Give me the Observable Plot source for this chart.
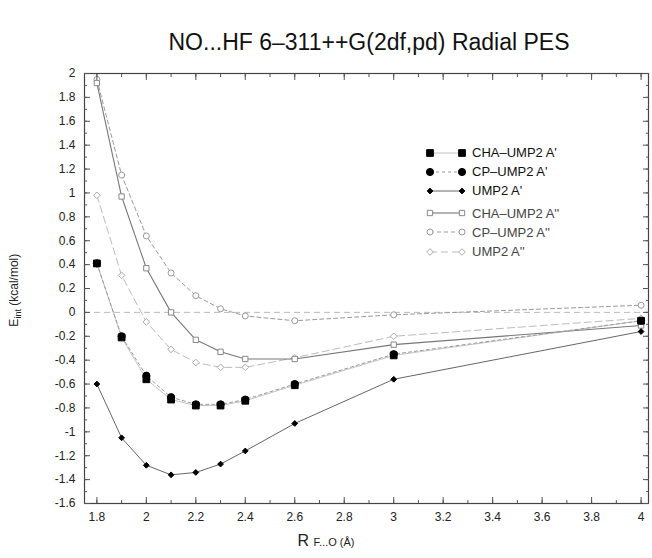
<!DOCTYPE html>
<html><head><meta charset="utf-8">
<script src="https://cdn.jsdelivr.net/npm/d3@7"></script>
<script src="https://cdn.jsdelivr.net/npm/@observablehq/plot@0.6"></script>
<style>
body{margin:0;background:#fff;font-family:"Liberation Sans",Arial,sans-serif;}
#wrap{position:relative;width:652px;height:558px;overflow:hidden;}
#title{height:60px;box-sizing:border-box;padding-top:30px;padding-left:86px;text-align:center;font-size:23px;color:#111;line-height:24px;}
#ylab{position:absolute;left:-40px;top:282px;width:110px;text-align:center;transform:rotate(-90deg);font-size:12px;color:#222;white-space:nowrap;}
#xlab{position:absolute;left:0;width:652px;top:532px;padding-left:0;text-align:center;color:#222;white-space:nowrap;}
#legend{position:absolute;left:424px;top:143px;font-size:13px;color:#111;}
.row{height:19.2px;display:flex;align-items:center;}
.row svg{margin-right:6px;}
</style></head><body>
<div id="wrap">
<div id="title">NO...HF 6–311++G(2df,pd) Radial PES</div>
<div id="chart"></div>
<div id="ylab">E<sub style="font-size:9px">int</sub> (kcal/mol)</div>
<div id="xlab"><span style="font-size:16px">R</span> <span style="font-size:11px">F...O (Å)</span></div>
<div id="legend"></div>
</div>
<script>
// distances (Å)
const R = [1.8, 1.9, 2.0, 2.1, 2.2, 2.3, 2.4, 2.6, 3.0, 4.0];
// interaction energies (kcal/mol)
const chaA1 = [0.41, -0.21, -0.56, -0.73, -0.78, -0.78, -0.74, -0.61, -0.36, -0.07];
const cpA1  = [0.41, -0.20, -0.53, -0.71, -0.77, -0.77, -0.73, -0.60, -0.35, -0.07];
const umpA1 = [-0.60, -1.05, -1.28, -1.36, -1.34, -1.27, -1.16, -0.93, -0.56, -0.16];
const chaA2 = [1.92, 0.97, 0.37, 0.00, -0.23, -0.33, -0.39, -0.39, -0.27, -0.11];
const cpA2  = [1.95, 1.15, 0.64, 0.33, 0.14, 0.03, -0.03, -0.07, -0.02, 0.06];
const umpA2 = [0.98, 0.31, -0.08, -0.31, -0.42, -0.46, -0.46, -0.38, -0.20, -0.05];
const seriesNames = ["CHA–UMP2 A'", "CP–UMP2 A'", "UMP2 A'", "CHA–UMP2 A''", "CP–UMP2 A''", "UMP2 A''"];
const xMajor = [1.8, 2.0, 2.2, 2.4, 2.6, 2.8, 3.0, 3.2, 3.4, 3.6, 3.8, 4.0];
const yMajor = [-1.6, -1.4, -1.2, -1, -0.8, -0.6, -0.4, -0.2, 0, 0.2, 0.4, 0.6, 0.8, 1, 1.2, 1.4, 1.6, 1.8, 2];
const xMinor = d3.range(18, 41).map(v => v / 10);
const yMinor = d3.range(-16, 21).map(v => v / 10);

const styles = [
  {stroke: "#aaa", dash: null, sw: 0.7, symbol: "square", r: 3.8, fill: "#000", mstroke: "#000"},
  {stroke: "#999", dash: "3,3", sw: 1, symbol: "circle", r: 3.6, fill: "#000", mstroke: "#000"},
  {stroke: "#666", dash: null, sw: 1, symbol: "diamond2", r: 2.6, fill: "#000", mstroke: "#000"},
  {stroke: "#777", dash: null, sw: 1.1, symbol: "square", r: 3, fill: "#fff", mstroke: "#888"},
  {stroke: "#999", dash: "4,3", sw: 1, symbol: "circle", r: 3, fill: "#fff", mstroke: "#999"},
  {stroke: "#bbb", dash: "7,4", sw: 1, symbol: "diamond2", r: 3, fill: "#fff", mstroke: "#aaa"}
];
const values = [chaA1, cpA1, umpA1, chaA2, cpA2, umpA2];
const tables = values.map(v => R.map((x, i) => ({x, y: v[i]})));
const fmt = d => String(+d.toFixed(1));
// draw order: A'' first (gray), then A'
const order = [5, 4, 3, 0, 1, 2];
const marks = [
  Plot.ruleY([0], {stroke: "#aaa", strokeDasharray: "6,4", strokeWidth: 0.8})
];
for (const k of order) {
  const s = styles[k];
  marks.push(Plot.line(tables[k], {x: "x", y: "y", stroke: s.stroke, strokeWidth: s.sw, strokeDasharray: s.dash}));
}
for (const k of order) {
  const s = styles[k];
  marks.push(Plot.dot(tables[k], {x: "x", y: "y", symbol: () => s.symbol, r: s.r, fill: s.fill, stroke: s.mstroke, strokeWidth: 1}));
}
const blank = () => "";
const tk = {label: null, stroke: "#555", tickFormat: blank};
marks.push(
  Plot.frame({stroke: "#444", strokeWidth: 1.2}),
  Plot.axisX(xMajor, {anchor: "bottom", tickSize: 0, tickPadding: 9, tickFormat: fmt, fontSize: 12, fill: "#222", label: null}),
  Plot.axisY(yMajor, {anchor: "left", tickSize: 0, tickPadding: 9, tickFormat: fmt, fontSize: 12, fill: "#222", label: null}),
  Plot.axisX(xMajor, {...tk, anchor: "bottom", tickSize: 6, dy: -6}),
  Plot.axisX(xMinor, {...tk, anchor: "bottom", tickSize: 3, dy: -3}),
  Plot.axisX(xMajor, {...tk, anchor: "top", tickSize: 6, dy: 6}),
  Plot.axisX(xMinor, {...tk, anchor: "top", tickSize: 3, dy: 3}),
  Plot.axisY(yMajor, {...tk, anchor: "left", tickSize: 6, dx: 6}),
  Plot.axisY(yMinor, {...tk, anchor: "left", tickSize: 3, dx: 3}),
  Plot.axisY(yMajor, {...tk, anchor: "right", tickSize: 6, dx: -6}),
  Plot.axisY(yMinor, {...tk, anchor: "right", tickSize: 3, dx: -3})
);
const chart = Plot.plot({
  width: 652, height: 498,
  marginTop: 13, marginBottom: 55, marginLeft: 84, marginRight: 4,
  style: {fontFamily: "Liberation Sans, Arial, sans-serif", background: "#fff"},
  x: {domain: [1.75, 4.03]},
  y: {domain: [-1.6, 2]},
  marks
});
document.getElementById("chart").append(chart);

// legend
const leg = d3.select("#legend");
const sym = {square: d3.symbolSquare, circle: d3.symbolCircle, diamond2: d3.symbolDiamond2};
seriesNames.forEach((name, k) => {
  const s = styles[k];
  const row = leg.append("div").attr("class", "row").style("margin-top", k === 3 ? "3px" : "0px").style("color", k < 3 ? "#111" : "#444");
  const svg = row.append("svg").attr("width", 42).attr("height", 12);
  svg.append("line").attr("x1", 6).attr("x2", 38).attr("y1", 6).attr("y2", 6)
    .attr("stroke", s.stroke).attr("stroke-width", s.sw).attr("stroke-dasharray", s.dash);
  for (const cx of [6, 38]) {
    svg.append("path").attr("d", d3.symbol(sym[s.symbol], Math.PI * s.r * s.r)())
      .attr("transform", `translate(${cx},6)`).attr("fill", s.fill).attr("stroke", s.mstroke);
  }
  row.append("span").text(name);
});
</script>
</body></html>
